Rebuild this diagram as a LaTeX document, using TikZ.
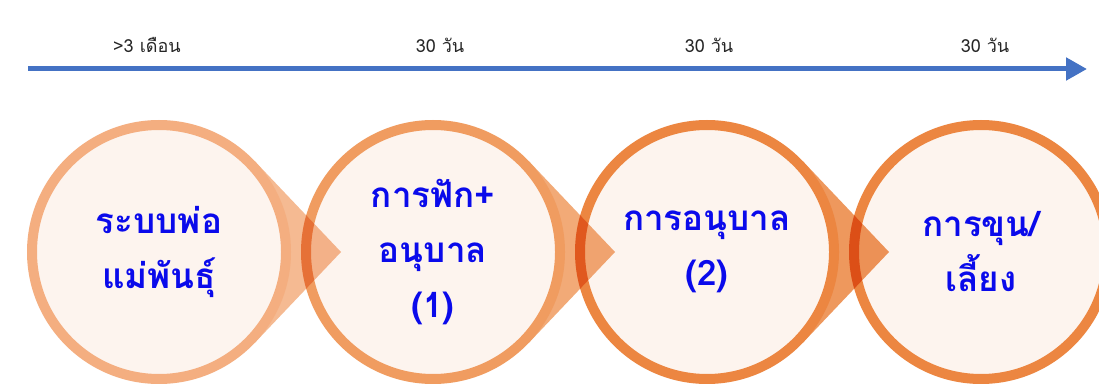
\documentclass[tikz,border=0pt]{standalone}
\usepackage{fontspec}
\newfontfamily\thaifont[Script=Thai]{Loma}
\usetikzlibrary{arrows.meta}
\definecolor{tlblue}{HTML}{4472C4}
\definecolor{labgray}{HTML}{262626}
\definecolor{txtblue}{HTML}{0A0AEB}
\definecolor{innerfill}{HTML}{FDF4EE}
\definecolor{orA}{HTML}{F4AE80}
\definecolor{orB}{HTML}{F09C60}
\definecolor{orC}{HTML}{EC8641}
\tikzset{
  timelabel/.style={font=\thaifont\fontsize{18}{20}\selectfont, text=labgray, inner sep=0},
  stage/.style={circle, minimum size=254, inner sep=0, fill=innerfill, align=center,
    text=txtblue, font=\thaifont\bfseries\fontsize{35}{55}\selectfont},
  ring/.style={line width=10},
  pointer/.style={blend mode=multiply, fill opacity=0.85},
}
\begin{document}
\begin{tikzpicture}[x=1pt,y=1pt]
\useasboundingbox (0,0) rectangle (1099,383);
\clip (0,0) rectangle (1099,383);
\fill[white] (0,0) rectangle (1099,383);
% timeline
\coordinate (ts) at (28,314);
\coordinate (te) at (1087,314);
\draw[tlblue, line width=5, -{Triangle[length=21pt,width=22pt]}] (ts) -- (te);
\node[timelabel] (t1) at (147,338) {>3 เดือน};
\node[timelabel] (t2) at (440,338) {30 วัน};
\node[timelabel] (t3) at (709,338) {30 วัน};
\node[timelabel] (t4) at (985,338) {30 วัน};
% centres
\coordinate (p1) at (159,131);
\coordinate (p2) at (433,131);
\coordinate (p3) at (707,131);
\coordinate (p4) at (981,131);
% stage 4
\node[stage] (c4) at (p4) {การขุน/\\เลี้ยง};
\draw[ring, orC] (c4.center) circle (127);
% pointer 3
\fill[pointer, orC] ([shift={(43.5:132)}]p3) -- ([shift={(182,0)}]p3) -- ([shift={(-43.5:132)}]p3) -- (p3) -- cycle;
\node[stage] (c3) at (p3) {การอนุบาล\\(2)};
\draw[ring, orC] (c3.center) circle (127);
% pointer 2
\fill[pointer, orB] ([shift={(43.5:132)}]p2) -- ([shift={(182,0)}]p2) -- ([shift={(-43.5:132)}]p2) -- (p2) -- cycle;
\node[stage] (c2) at (p2) {การฟัก+\\อนุบาล\\(1)};
\draw[ring, orB] (c2.center) circle (127);
% pointer 1
\fill[pointer, orA] ([shift={(43.5:132)}]p1) -- ([shift={(182,0)}]p1) -- ([shift={(-43.5:132)}]p1) -- (p1) -- cycle;
\node[stage] (c1) at (p1) {ระบบพ่อ\\แม่พันธุ์};
\draw[ring, orA] (c1.center) circle (127);
\end{tikzpicture}
\end{document}
